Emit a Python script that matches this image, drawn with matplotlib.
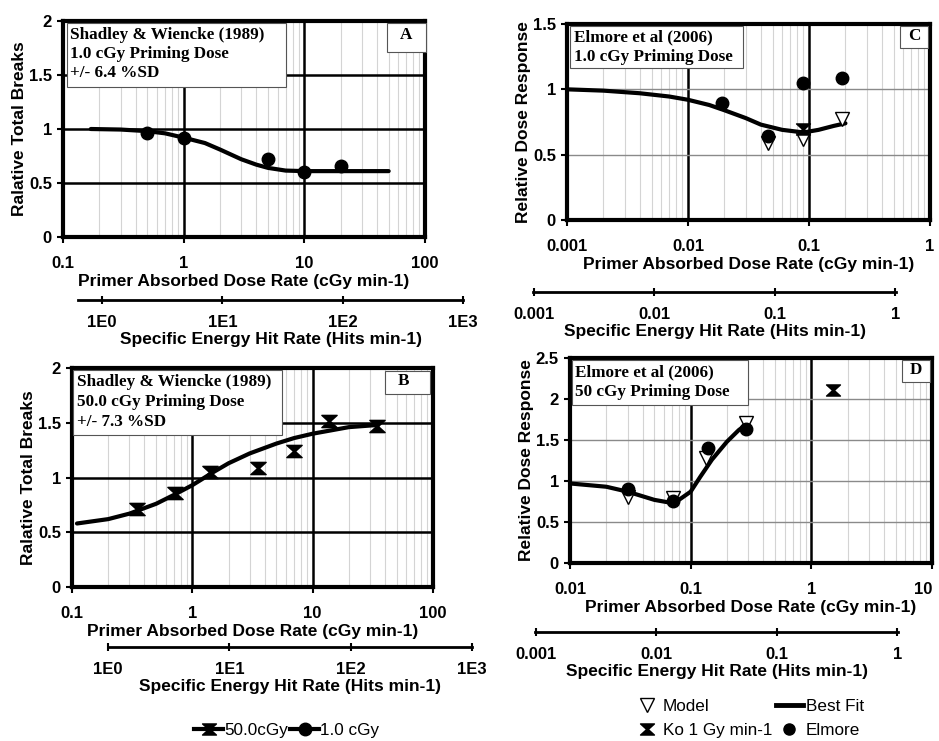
import matplotlib

matplotlib.use("Agg")
import matplotlib.pyplot as plt
from matplotlib.lines import Line2D
from matplotlib.patches import Rectangle
from matplotlib.path import Path
from matplotlib.ticker import FixedLocator, LogLocator, NullFormatter

plt.rcParams["font.family"] = ["Liberation Sans", "DejaVu Sans"]

W, H = 939, 741

# ── data ──────────────────────────────────────────
# A: Shadley & Wiencke, 1.0 cGy priming
A_rate = [0.5, 1, 5, 10, 20]
A_val = [0.96, 0.92, 0.72, 0.60, 0.66]
A_fit_x = [0.17, 0.3, 0.5, 0.7, 1, 1.5, 2, 3, 4, 5, 7, 10, 20, 50]
A_fit_y = [1.0, 0.995, 0.98, 0.96, 0.92, 0.87, 0.81, 0.72, 0.67, 0.64, 0.615, 0.61, 0.61, 0.61]

# B: Shadley & Wiencke, 50 cGy priming
B_rate = [0.35, 0.72, 1.4, 3.5, 7.0, 13.7, 34]
B_val = [0.71, 0.86, 1.05, 1.09, 1.24, 1.52, 1.47]
B_fit_x = [0.11, 0.2, 0.3, 0.5, 0.7, 1, 1.5, 2, 3, 5, 7, 10, 20, 35]
B_fit_y = [0.58, 0.62, 0.67, 0.76, 0.84, 0.93, 1.05, 1.13, 1.22, 1.31, 1.36, 1.40, 1.46, 1.48]

# C: Elmore 1.0 cGy priming
C_elm_x = [0.019, 0.046, 0.089, 0.187]
C_elm_y = [0.895, 0.64, 1.05, 1.09]
C_mod_x = [0.046, 0.089, 0.187]
C_mod_y = [0.59, 0.62, 0.77]
C_ko_x = [0.09]
C_ko_y = [0.70]
C_fit_x = [0.001, 0.002, 0.004, 0.007, 0.01, 0.015, 0.02, 0.03, 0.04, 0.06, 0.09, 0.12, 0.16, 0.2]
C_fit_y = [1.0, 0.99, 0.97, 0.945, 0.92, 0.88, 0.84, 0.78, 0.73, 0.69, 0.67, 0.69, 0.72, 0.74]

# D: Elmore 50 cGy priming
D_elm_x = [0.030, 0.071, 0.139, 0.287]
D_elm_y = [0.90, 0.76, 1.40, 1.63]
D_mod_x = [0.030, 0.071, 0.134, 0.29]
D_mod_y = [0.80, 0.79, 1.28, 1.71]
D_ko_x = [1.51]
D_ko_y = [2.11]
D_fit_x = [0.01, 0.02, 0.03, 0.05, 0.065, 0.08, 0.1, 0.12, 0.15, 0.2, 0.25, 0.3]
D_fit_y = [0.97, 0.93, 0.87, 0.77, 0.74, 0.77, 0.87, 1.05, 1.26, 1.48, 1.62, 1.71]

DOSE_TICKS_AB = [0.1, 1, 10, 100]
DOSE_TICKS_C = [0.001, 0.01, 0.1, 1]
DOSE_TICKS_D = [0.01, 0.1, 1, 10]
HIT_TICKS_AB = [1, 10, 100, 1000]
HIT_LABELS_AB = ["1E0", "1E1", "1E2", "1E3"]
HIT_TICKS_CD = [0.001, 0.01, 0.1, 1]
HIT_LABELS_CD = ["0.001", "0.01", "0.1", "1"]

# hourglass marker (Ko)
HOURGLASS = Path([(-1, 0.8), (1, 0.8), (0.12, 0), (1, -0.8), (-1, -0.8), (-0.12, 0), (-1, 0.8)],
                 [Path.MOVETO] + [Path.LINETO] * 5 + [Path.CLOSEPOLY])

SERIF = ["Liberation Serif", "DejaVu Serif"]
TICK_FS = 12
LABEL_FS = 12.5
BOX_FS = 12.3


def fmt_num(v):
    return f"{v:g}"


def px_axes(fig, ext):
    x0, y0, x1, y1 = ext
    return fig.add_axes([x0 / W, 1 - y1 / H, (x1 - x0) / W, (y1 - y0) / H])


def style_main(ax, xlim, xticks, ylim, yticks, ylabel, light_h):
    ax.set_xscale("log")
    ax.set_xlim(*xlim)
    ax.set_ylim(*ylim)
    ax.set_xticks(xticks)
    ax.set_xticklabels([fmt_num(t) for t in xticks])
    ax.xaxis.set_minor_locator(LogLocator(base=10, subs=range(2, 10), numticks=20))
    ax.xaxis.set_minor_formatter(NullFormatter())
    ax.set_yticks(yticks)
    ax.set_yticklabels([fmt_num(t) for t in yticks])
    ax.tick_params(axis="both", which="major", direction="out", length=4, width=1.5,
                   labelsize=TICK_FS)
    ax.tick_params(axis="x", which="major", pad=10)
    ax.tick_params(axis="y", which="major", pad=4)
    ax.tick_params(axis="x", which="minor", length=0)
    for lab in ax.get_xticklabels() + ax.get_yticklabels():
        lab.set_fontweight("bold")
    for s in ax.spines.values():
        s.set_linewidth(3)
    ax.set_axisbelow(True)
    ax.grid(axis="x", which="minor", color="#d4d4d4", lw=0.8)
    ax.grid(axis="x", which="major", color="black", lw=1.8)
    if light_h:
        ax.grid(axis="y", which="major", color="#8a8a8a", lw=1.0)
    else:
        ax.grid(axis="y", which="major", color="black", lw=1.8)
    ax.set_xlabel("Primer Absorbed Dose Rate (cGy min-1)", fontsize=LABEL_FS,
                  fontweight="bold", labelpad=2)
    ax.set_ylabel(ylabel, fontsize=LABEL_FS, fontweight="bold", labelpad=1)


def hit_axis(fig, x0, x1, y, xlim, ticks, labels):
    ax = fig.add_axes([x0 / W, 1 - y / H, (x1 - x0) / W, 1e-4])
    ax.patch.set_visible(False)
    ax.set_xscale("log")
    ax.set_xlim(*xlim)
    ax.set_yticks([])
    for s in ("top", "left", "right"):
        ax.spines[s].set_visible(False)
    ax.spines["bottom"].set_linewidth(2)
    ax.xaxis.set_major_locator(FixedLocator(ticks))
    ax.set_xticklabels(labels)
    ax.xaxis.set_minor_locator(FixedLocator([]))
    ax.tick_params(axis="x", direction="inout", length=6, width=1.5, pad=8, labelsize=TICK_FS)
    for lab in ax.get_xticklabels():
        lab.set_fontweight("bold")
    ax.set_xlabel("Specific Energy Hit Rate (Hits min-1)", fontsize=LABEL_FS,
                  fontweight="bold", labelpad=1)
    return ax


def info_box(ax, ext, box, lines, tx, ty, lbox, letter, lxy):
    """Boxes placed in pixel units of the figure, converted to axes fractions."""
    ax0, ay0, ax1, ay1 = ext

    def fx(x):
        return (x - ax0) / (ax1 - ax0)

    def fy(y):
        return (ay1 - y) / (ay1 - ay0)

    for (x0, y0, x1, y1) in (box, lbox):
        ax.add_patch(Rectangle((fx(x0), fy(y1)), fx(x1) - fx(x0), fy(y0) - fy(y1),
                               transform=ax.transAxes, fc="white", ec="#555555", lw=0.8,
                               zorder=5, clip_on=False))
    for line, yy in zip(lines, ty):
        ax.text(fx(tx), fy(yy), line, transform=ax.transAxes, ha="left", va="center",
                family=SERIF, fontweight="bold", fontsize=BOX_FS, zorder=6)
    ax.text(fx(lxy[0]), fy(lxy[1]), letter, transform=ax.transAxes, ha="center",
            va="center", family=SERIF, fontweight="bold", fontsize=BOX_FS, zorder=6)


fig = plt.figure(figsize=(W / 100, H / 100), dpi=100)
fig.patch.set_facecolor("white")

# ── panel A ──
extA = (63, 21, 425, 237)
axA = px_axes(fig, extA)
style_main(axA, (0.1, 100), DOSE_TICKS_AB, (0, 2), [0, 0.5, 1, 1.5, 2],
           "Ralative Total Breaks", light_h=False)
axA.plot(A_fit_x, A_fit_y, color="black", lw=3, zorder=3, solid_capstyle="round")
axA.plot(A_rate, A_val, "o", color="black", ms=9, zorder=4)
info_box(axA, extA, (67, 23, 286, 87),
         ["Shadley & Wiencke (1989)", "1.0 cGy Priming Dose", "+/- 6.4 %SD"],
         70, [35, 54, 73], (387, 23, 426, 52), "A", (406, 35))
hit_axis(fig, 78, 463, 300, (10 ** -0.2, 1000), HIT_TICKS_AB, HIT_LABELS_AB)

# ── panel B ──
extB = (72, 368, 433, 587)
axB = px_axes(fig, extB)
style_main(axB, (0.1, 100), DOSE_TICKS_AB, (0, 2), [0, 0.5, 1, 1.5, 2],
           "Ralative Total Breaks", light_h=False)
axB.plot(B_fit_x, B_fit_y, color="black", lw=3, zorder=3, solid_capstyle="round")
axB.plot(B_rate, B_val, marker=HOURGLASS, ls="none", color="black", ms=11, zorder=4)
info_box(axB, extB, (73, 370, 282, 435),
         ["Shadley & Wiencke (1989)", "50.0 cGy Priming Dose", "+/- 7.3 %SD"],
         77, [382, 402, 422], (385, 371, 430, 394), "B", (403, 381))
hit_axis(fig, 108, 472, 647, (1, 1000), HIT_TICKS_AB, HIT_LABELS_AB)

# ── panel C ──
extC = (567, 24, 930, 220)
axC = px_axes(fig, extC)
style_main(axC, (0.001, 1), DOSE_TICKS_C, (0, 1.5), [0, 0.5, 1, 1.5],
           "Relative Dose Response", light_h=True)
axC.plot(C_fit_x, C_fit_y, color="black", lw=3, zorder=3, solid_capstyle="round")
axC.plot(C_mod_x, C_mod_y, "v", mfc="white", mec="black", mew=1, ms=10, zorder=4)
axC.plot(C_ko_x, C_ko_y, marker=HOURGLASS, ls="none", color="black", ms=10, zorder=4)
axC.plot(C_elm_x, C_elm_y, "o", color="black", ms=9, zorder=4)
info_box(axC, extC, (570, 26, 743, 68),
         ["Elmore et al (2006)", "1.0 cGy Priming Dose"],
         574, [37, 57], (900, 26, 928, 48), "C", (914, 36))
hit_axis(fig, 533, 896, 292, (0.00099, 1.01), HIT_TICKS_CD, HIT_LABELS_CD)

# ── panel D ──
extD = (570, 358, 932, 563)
axD = px_axes(fig, extD)
style_main(axD, (0.01, 10), DOSE_TICKS_D, (0, 2.5), [0, 0.5, 1, 1.5, 2, 2.5],
           "Relative Dose Response", light_h=True)
# last tick label sits against the figure edge: right-align it
axD.get_xticklabels()[-1].set_horizontalalignment("right")
axD.plot(D_fit_x, D_fit_y, color="black", lw=3, zorder=3, solid_capstyle="round")
axD.plot(D_mod_x, D_mod_y, "v", mfc="white", mec="black", mew=1, ms=10, zorder=4)
axD.plot(D_ko_x, D_ko_y, marker=HOURGLASS, ls="none", color="black", ms=10, zorder=4)
axD.plot(D_elm_x, D_elm_y, "o", color="black", ms=9, zorder=4)
info_box(axD, extD, (572, 360, 748, 405),
         ["Elmore et al (2006)", "50 cGy Priming Dose"],
         575, [372, 392], (902, 360, 930, 382), "D", (916, 370))
hit_axis(fig, 535, 898, 632, (0.00099, 1.01), HIT_TICKS_CD, HIT_LABELS_CD)

# ── legends ──
hB = [Line2D([], [], color="black", lw=3, marker=HOURGLASS, ms=10),
      Line2D([], [], color="black", lw=3, marker="o", ms=9)]
fig.legend(hB, ["50.0cGy", "1.0 cGy"], loc="upper left",
           bbox_to_anchor=(194 / W, 1 - 723 / H), ncol=2, frameon=False, fontsize=12.3,
           handlelength=1.7, handletextpad=0.05, columnspacing=0.15, borderpad=0,
           borderaxespad=0)

hD = [Line2D([], [], ls="none", marker="v", mfc="white", mec="black", mew=1, ms=10),
      Line2D([], [], ls="none", marker=HOURGLASS, color="black", ms=10),
      Line2D([], [], color="black", lw=3.5),
      Line2D([], [], ls="none", marker="o", color="black", ms=8)]
fig.legend(hD, ["Model", "Ko 1 Gy min-1", "Best Fit", "Elmore"], loc="upper left",
           bbox_to_anchor=(633 / W, 1 - 699 / H), ncol=2, frameon=False, fontsize=12.3,
           handlelength=1.6, handletextpad=0.15, columnspacing=0.2, labelspacing=0.55,
           borderpad=0, borderaxespad=0)

fig.savefig("out.png", dpi=100, facecolor="white")
